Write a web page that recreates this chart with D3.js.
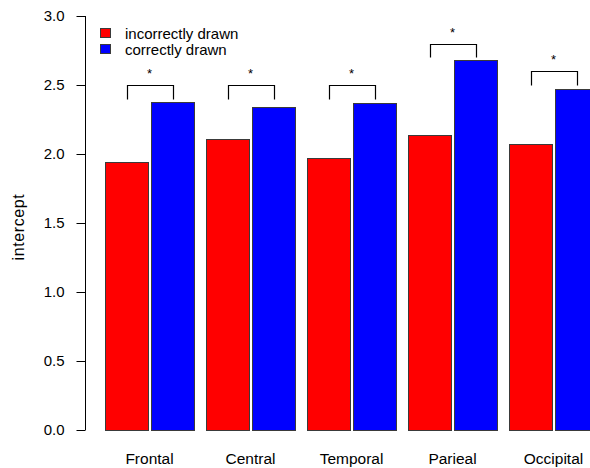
<!DOCTYPE html>
<html>
<head>
<meta charset="utf-8">
<script src="https://cdn.jsdelivr.net/npm/d3@7"></script>
<style>
  html, body { margin: 0; padding: 0; background: #fff; }
  svg text { font-family: "Liberation Sans", Arial, sans-serif; fill: #000; }
</style>
</head>
<body>
<svg id="chart" width="590" height="468"></svg>
<script>
// Regions and the two drawing conditions
const regions = ["Frontal", "Central", "Temporal", "Parieal", "Occipital"];
const seriesNames = ["incorrectly drawn", "correctly drawn"];
const seriesColors = ["#ff0000", "#0000ff"];
const incorrectValues = [1.94, 2.11, 1.97, 2.14, 2.07];
const correctValues = [2.38, 2.34, 2.37, 2.68, 2.47];
// Height of each significance bracket (data units) and its label
const bracketLevels = [2.5, 2.5, 2.5, 2.8, 2.6];
const bracketLabels = ["*", "*", "*", "*", "*"];
const yTicks = [0, 0.5, 1.0, 1.5, 2.0, 2.5, 3.0];

const svg = d3.select("#chart");

const x = d3.scaleBand()
  .domain(regions)
  .range([105, 598])
  .paddingInner(12 / 101)
  .paddingOuter(0);

const xInner = d3.scaleBand()
  .domain(seriesNames)
  .range([0, x.bandwidth()])
  .paddingInner(3 / 46);

const y = d3.scaleLinear().domain([0, 3]).range([430, 16]);

const rows = regions.map((r, i) => ({
  region: r,
  values: [incorrectValues[i], correctValues[i]],
  level: bracketLevels[i],
  label: bracketLabels[i]
}));

// Bars
const groups = svg.append("g").selectAll("g")
  .data(rows)
  .join("g")
  .attr("transform", d => `translate(${x(d.region)},0)`);

groups.selectAll("rect")
  .data(d => d.values.map((v, j) => ({ v, j })))
  .join("rect")
  .attr("x", d => xInner(seriesNames[d.j]) + 0.5)
  .attr("y", d => Math.round(y(d.v)) + 0.5)
  .attr("width", xInner.bandwidth())
  .attr("height", d => Math.round(y(0)) - Math.round(y(d.v)))
  .attr("fill", d => seriesColors[d.j])
  .attr("stroke", "#3a3a3a")
  .attr("stroke-width", 1);

// Significance brackets from the middle of one bar to the middle of the other
const legDrop = 0.1;
groups.append("path")
  .attr("fill", "none")
  .attr("stroke", "#000")
  .attr("stroke-width", 1.2)
  .attr("d", d => {
    const x1 = Math.round(xInner(seriesNames[0]) + xInner.bandwidth() / 2) + 0.5;
    const x2 = Math.round(xInner(seriesNames[1]) + xInner.bandwidth() / 2) + 0.5;
    const yt = Math.round(y(d.level)) + 0.5;
    const yb = Math.round(y(d.level - legDrop)) + 0.5;
    return `M${x1},${yb}V${yt}H${x2}V${yb}`;
  });

groups.append("text")
  .attr("x", x.bandwidth() / 2)
  .attr("y", d => y(d.level) - 7)
  .attr("text-anchor", "middle")
  .attr("font-size", 13)
  .text(d => d.label);

// Region labels
svg.append("g").selectAll("text")
  .data(regions)
  .join("text")
  .attr("x", d => x(d) + x.bandwidth() / 2)
  .attr("y", 464)
  .attr("text-anchor", "middle")
  .attr("font-size", 15.5)
  .text(d => d);

// Y axis
const yAxis = d3.axisLeft(y)
  .tickValues(yTicks)
  .tickFormat(d3.format(".1f"))
  .tickSize(9)
  .tickSizeOuter(0)
  .tickPadding(12);

const ag = svg.append("g")
  .attr("transform", "translate(85.5,0)")
  .call(yAxis);
ag.select(".domain").attr("stroke", "#000").attr("d", `M0,${y(0)}V${y(3)}`);
ag.selectAll(".tick line").attr("stroke", "#000");
ag.selectAll(".tick text")
  .attr("font-size", 15)
  .attr("font-family", "Liberation Sans, Arial, sans-serif")
  .attr("fill", "#000");

svg.append("text")
  .attr("transform", `translate(24,${(y(0) + y(3)) / 2 + 4}) rotate(-90)`)
  .attr("text-anchor", "middle")
  .attr("font-size", 16)
  .attr("letter-spacing", 0.6)
  .text("intercept");

// Legend
const legend = svg.append("g").selectAll("g")
  .data(seriesNames)
  .join("g")
  .attr("transform", (d, i) => `translate(100.5,${28.5 + i * 16})`);
legend.append("rect")
  .attr("width", 10)
  .attr("height", 9)
  .attr("fill", (d, i) => seriesColors[i])
  .attr("stroke", "#3a3a3a");
legend.append("text")
  .attr("x", 24.5)
  .attr("y", 10)
  .attr("font-size", 15)
  .text(d => d);
</script>
</body>
</html>
